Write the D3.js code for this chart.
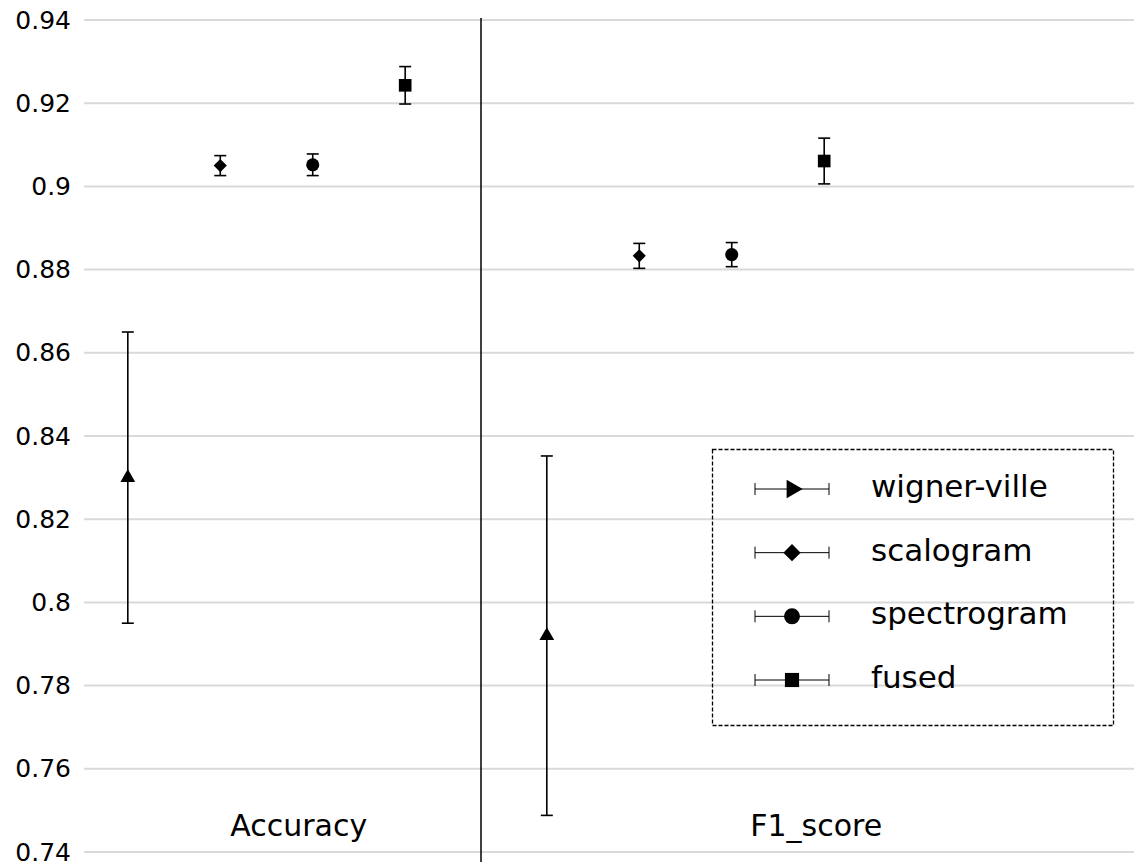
<!DOCTYPE html>
<html>
<head>
<meta charset="utf-8">
<script src="https://cdn.jsdelivr.net/npm/d3@7"></script>
<style>
  html, body { margin: 0; padding: 0; background: #fff; }
  svg { display: block; }
  text { font-family: "DejaVu Sans", Verdana, sans-serif; fill: #000; }
</style>
</head>
<body>
<svg id="chart" width="1134" height="867"></svg>
<script>
// Metrics and series
const categories = ["Accuracy", "F1_score"];
const seriesNames = ["wigner-ville", "scalogram", "spectrogram", "fused"];
const seriesShapes = ["triangle", "diamond", "circle", "square"];
// mean values per series, one entry per category
const wignerMean = [0.830, 0.792];
const scalogramMean = [0.905, 0.8833];
const spectrogramMean = [0.9052, 0.8836];
const fusedMean = [0.9243, 0.9061];
// half-width of each error bar
const wignerErr = [0.035, 0.0432];
const scalogramErr = [0.0024, 0.003];
const spectrogramErr = [0.0026, 0.0029];
const fusedErr = [0.0045, 0.0055];
const yTicks = [0.74, 0.76, 0.78, 0.8, 0.82, 0.84, 0.86, 0.88, 0.9, 0.92, 0.94];

const means = [wignerMean, scalogramMean, spectrogramMean, fusedMean];
const errs = [wignerErr, scalogramErr, spectrogramErr, fusedErr];

const svg = d3.select("#chart");

const y = d3.scaleLinear().domain([0.74, 0.94]).range([852, 20]);
// horizontal position: category index plus a per-series offset
const x = d3.scaleLinear().domain([0, 1]).range([266.5, 685.5]);
const seriesOffset = d3.scalePoint().domain(seriesNames).range([-0.331, 0.331]);
const labelPos = [0.077, 1.312];

// gridlines
svg.append("g").selectAll("line").data(yTicks).join("line")
  .attr("x1", 84).attr("x2", 1134)
  .attr("y1", d => y(d)).attr("y2", d => y(d))
  .attr("stroke", "#d9d9d9").attr("stroke-width", 2);

// y axis labels
const yAxis = d3.axisLeft(y).tickValues(yTicks).tickSize(0).tickPadding(0)
  .tickFormat(d => d3.format("")(+d.toFixed(2)));
const ag = svg.append("g").attr("transform", "translate(71,0)").call(yAxis);
ag.select(".domain").remove();
ag.selectAll("text").attr("font-size", 25).attr("font-family", "DejaVu Sans, Verdana, sans-serif")
  .attr("fill", "#000");

// category separator
svg.append("line")
  .attr("x1", x(0.5) + 5).attr("x2", x(0.5) + 5)
  .attr("y1", 18).attr("y2", 862)
  .attr("stroke", "#000").attr("stroke-width", 1.5);

// category labels
svg.append("g").selectAll("text").data(categories).join("text")
  .attr("x", (d, i) => x(labelPos[i]))
  .attr("y", 836)
  .attr("text-anchor", "middle")
  .attr("font-size", 30)
  .text(d => d);

const symbolOf = {
  triangle: d3.symbol().type(d3.symbolTriangle).size(95),
  diamond: d3.symbol().type(d3.symbolDiamond2).size(110),
  circle: d3.symbol().type(d3.symbolCircle).size(135),
  square: d3.symbol().type(d3.symbolSquare).size(160)
};

// points with vertical error bars
const points = [];
seriesNames.forEach((s, si) => {
  categories.forEach((c, ci) => {
    points.push({ s, si, ci, v: means[si][ci], e: errs[si][ci] });
  });
});

const pg = svg.append("g");
const cap = 6;
points.forEach(p => {
  const cx = x(p.ci + seriesOffset(p.s));
  const g = pg.append("g");
  g.append("line").attr("x1", cx).attr("x2", cx)
    .attr("y1", y(p.v + p.e)).attr("y2", y(p.v - p.e))
    .attr("stroke", "#000").attr("stroke-width", 1.6);
  [p.v + p.e, p.v - p.e].forEach(val => {
    g.append("line").attr("x1", cx - cap).attr("x2", cx + cap)
      .attr("y1", y(val)).attr("y2", y(val))
      .attr("stroke", "#000").attr("stroke-width", 1.6);
  });
  g.append("path").attr("d", symbolOf[seriesShapes[p.si]]())
    .attr("transform", `translate(${cx},${y(p.v)})`)
    .attr("fill", "#000");
});

// legend
const lg = svg.append("g");
lg.append("rect").attr("x", 712.5).attr("y", 449.5).attr("width", 401).attr("height", 276)
  .attr("fill", "none").attr("stroke", "#000").attr("stroke-width", 1.3)
  .attr("stroke-dasharray", "4,2");
const legendY = d3.scalePoint().domain(seriesNames).range([489, 680]);
seriesNames.forEach((s, i) => {
  const ly = legendY(s);
  const g = lg.append("g");
  g.append("line").attr("x1", 755).attr("x2", 829).attr("y1", ly).attr("y2", ly)
    .attr("stroke", "#000").attr("stroke-width", 1);
  [755, 829].forEach(xx => g.append("line").attr("x1", xx).attr("x2", xx)
    .attr("y1", ly - 6).attr("y2", ly + 6).attr("stroke", "#000").attr("stroke-width", 1));
  const shape = seriesShapes[i];
  const rot = shape === "triangle" ? 90 : 0;
  const sym = shape === "triangle" ? d3.symbol().type(d3.symbolTriangle).size(150)
    : shape === "diamond" ? d3.symbol().type(d3.symbolDiamond2).size(190)
    : shape === "circle" ? d3.symbol().type(d3.symbolCircle).size(200)
    : d3.symbol().type(d3.symbolSquare).size(200);
  g.append("path").attr("d", sym())
    .attr("transform", `translate(792,${ly}) rotate(${rot})`)
    .attr("fill", "#000");
  g.append("text").attr("x", 871).attr("y", ly + 8).attr("font-size", 31).text(s);
});
</script>
</body>
</html>
